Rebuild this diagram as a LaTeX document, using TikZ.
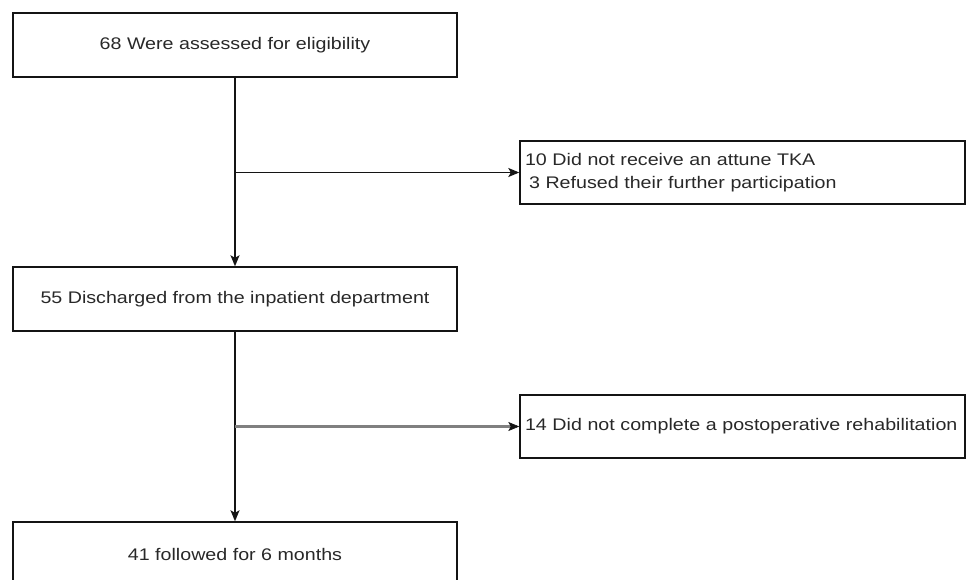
\documentclass[tikz,border=0pt]{standalone}
\usepackage{fontspec}
\setmainfont{Liberation Sans}[FakeStretch=1.17]
\usetikzlibrary{arrows.meta}
\definecolor{boxline}{RGB}{20,20,20}
\definecolor{branchgray}{RGB}{128,128,128}
\definecolor{textgray}{RGB}{40,40,40}
\hyphenpenalty=10000

\begin{document}
\begin{tikzpicture}[x=1pt, y=-1pt,
    flowbox/.style={draw=boxline, line width=1.4pt, minimum width=444pt, minimum height=64pt,
        inner sep=0pt, font=\fontsize{16.8}{23}\selectfont, text=textgray},
    sidebox/.style={flowbox, minimum width=445pt, minimum height=63pt, text width=435pt,
        align=left, inner xsep=5pt},
    flowarrow/.style={-{Stealth[length=11pt, width=9pt, inset=2.5pt]}, line width=1.4pt, boxline}]

    \useasboundingbox (0,0) rectangle (966,580);
    \clip (0,0) rectangle (966,580);

    % === MAIN COLUMN ===
    \node[flowbox] (assessed) at (235,45) {68 Were assessed for eligibility};
    \node[flowbox] (discharged) at (235,299) {55 Discharged from the inpatient department};
    \node[flowbox] (followed) at (235,554) {41 followed for 6 months};

    % === EXCLUSIONS ===
    \node[sidebox] (excluded1) at (742.5,172.5) {10 Did not receive an attune TKA\\\hspace*{4pt}3 Refused their further participation};
    \node[sidebox] (excluded2) at (742.5,426.5) {14 Did not complete a postoperative rehabilitation};

    % Branch points on the main line
    \coordinate (split1) at (assessed.south |- excluded1.west);
    \coordinate (split2) at (discharged.south |- excluded2.west);

    % === ARROWS ===
    \draw[flowarrow] (assessed) -- (discharged);
    \draw[flowarrow] (discharged) -- (followed);
    \draw[flowarrow] (split1) -- (excluded1);
    \draw[-{Stealth[length=11pt, width=9pt, inset=2.5pt, boxline, line width=0.6pt]}, line width=2.7pt, branchgray]
        (split2) -- (excluded2);

\end{tikzpicture}
\end{document}
